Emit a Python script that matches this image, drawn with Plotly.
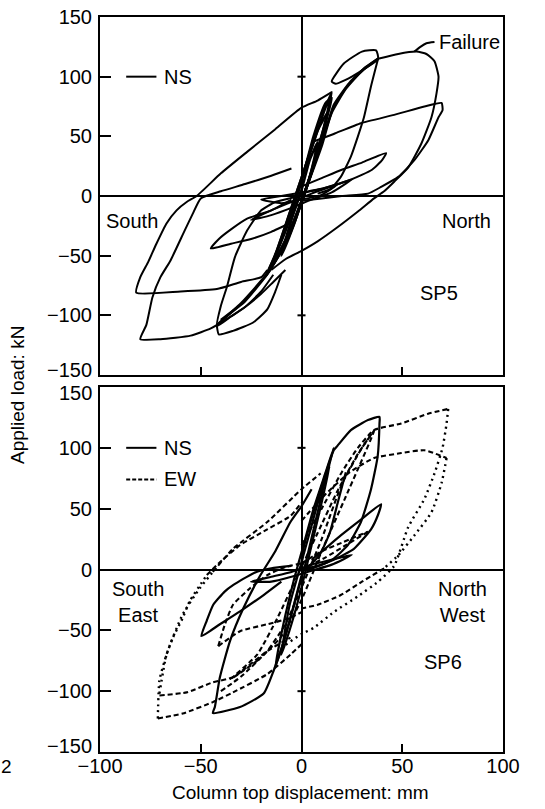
import plotly.graph_objects as go

# ---------------- DATA ----------------
# Axis ticks
x_ticks = [-100, -50, 0, 50, 100]
y_ticks = [-150, -100, -50, 0, 50, 100, 150]

# ---- SP5 (top panel), NS direction, solid ----
sp5_a_x = [-17, -20, -30, -42, -60, -82, -80, -76, -72, -67, -62, -57, -52, -40, -27, -13, 0, 8, 15]
sp5_a_y = [-62, -68, -72, -78, -80, -81, -68, -55, -40, -23, -12, -5, 0, 19, 37, 56, 74, 80, 87]

sp5_b_x = [-5, -15, -28, -40, -50, -54, -58, -65, -70, -74, -77, -80, -70, -55, -45, -37, -28, -20, -14]
sp5_b_y = [23, 17, 10, 4, -2, -15, -29, -54, -68, -85, -108, -120, -120, -117, -111, -103, -93, -80, -66]

sp5_c_x = [-8, -14, -20, -28, -35, -42, -40, -37, -33, -27, -20, -13, -6, 0]
sp5_c_y = [-62, -72, -82, -93, -101, -109, -92, -76, -51, -29, -12, -5, -2, 0]

sp5_c2_x = [-42, -41, -34, -24, -17, -13, -10]
sp5_c2_y = [-109, -116, -113, -106, -95, -80, -66]

sp5_d_x = [-5, -15, -27, -35, -41, -45, -35, -25, -15, -5]
sp5_d_y = [-3, -12, -19, -28, -36, -44, -40, -36, -30, -22]

sp5_e_x = [0, 10, 20, 30, 42, 40, 35, 25, 12, 0]
sp5_e_y = [8, 15, 22, 28, 36, 30, 22, 14, 7, 2]

sp5_fail_x = [38, 48, 57, 62, 66, 68, 67, 64.5, 59.5, 53, 46, 41, 36, 28, 18, 8, 0, -8, -15]
sp5_fail_y = [115, 119, 121, 119, 113, 100, 86, 66, 44, 24, 12, 4, -2, -13, -26, -38, -46, -53, -62]

sp5_lead_x = [56, 59, 62, 66]
sp5_lead_y = [121, 125, 128, 129]

sp5_g_x = [5, 16, 29.5, 46, 61, 69.5, 70, 68, 63, 56, 48, 39.5, 33, 20, 10, 0]
sp5_g_y = [45, 52, 61, 68, 75, 78, 72, 66, 47, 30, 16, 7.6, 2, 0, -2, -4]

sp5_h_x = [38, 34.5, 31, 28, 24.5, 19.5, 14.5, 8]
sp5_h_y = [115, 92, 66, 50, 33, 16, 6, 2]

sp5_i_x = [38, 37, 30, 21, 15, 17, 25, 38]
sp5_i_y = [115, 122, 121, 111, 96, 94, 100, 115]

sp5_band1_x = [-42, -30, -17, -8, 0, 8, 15, 22, 30, 38]
sp5_band1_y = [-108, -90, -65, -40, -5, 35, 70, 90, 105, 115]
sp5_band2_x = [-40, -28, -16, -7, 2, 10, 16, 24, 32, 38]
sp5_band2_y = [-104, -88, -63, -35, 5, 42, 76, 95, 108, 115]
sp5_band3_x = [-17, -12, -6, 0, 5, 10, 15, 11, 6, 0, -6, -12, -17]
sp5_band3_y = [-65, -50, -30, -5, 20, 50, 87, 70, 45, 15, -15, -45, -65]
sp5_band4_x = [-15, -8, -3, 3, 8, 13, 8, 2, -4, -10, -15]
sp5_band4_y = [-60, -40, -20, 10, 35, 70, 55, 25, -5, -35, -60]
sp5_band5_x = [-10, -4, 0, 4, 8, 4, 0, -5, -10]
sp5_band5_y = [-50, -25, -5, 15, 45, 30, 5, -20, -50]
sp5_band6_x = [-18, -11, -4, 2, 9, 15, 12, 6, 0, -7, -13, -18]
sp5_band6_y = [-68, -48, -22, 5, 45, 82, 78, 50, 12, -25, -50, -68]
sp5_s1_x = [-25, -15, -5, 5, 15, 25, 15, 5, -5, -15, -25]
sp5_s1_y = [-20, -12, -5, 2, 8, 14, 3, -3, -10, -16, -20]
sp5_s2_x = [-20, -10, 0, 10, 18, 10, 0, -10, -20]
sp5_s2_y = [-3, 0, 3, 6, 10, 1, -3, -6, -3]

# ---- SP6 (bottom panel), NS direction, solid ----
sp6_ns1_x = [0, 1, 4.5, 9.5, 13.7, 16, 18, 24.5, 33, 38.7, 38.7, 37.8, 34.5, 29.5, 23, 16, 9.5, 3, 0]
sp6_ns1_y = [3.5, 17, 39, 66, 87.5, 98, 102, 114.6, 122.8, 125.5, 120, 93, 66, 39, 20, 9, 3.5, 0, 0]

sp6_ns2_x = [5, 0, -5.5, -13, -20.5, -28.8, -35.5, -40.5, -43, -44, -30.5, -18.8, -13.8, -8.8, -3.8, 0]
sp6_ns2_y = [66, 52, 39, 15, -5, -31.7, -58.8, -88.6, -113, -118, -113, -102, -83, -59, -29, -5]

sp6_ns3_x = [-10, -18.8, -30.5, -40.5, -49.7, -47, -43.8, -38, -33.8, -23.8, -15, -5]
sp6_ns3_y = [-10, -21, -34.4, -45, -54.7, -42, -29, -18, -12.7, -3, 1, 3]

sp6_ns4_x = [5, 9.5, 19.5, 29.5, 39.5, 38, 34.5, 26, 16, 8, 0]
sp6_ns4_y = [8, 14, 28, 41, 53.7, 45, 33, 17, 8, 3, 0]

sp6_ns5_x = [-13, -8, -3, 2, 7, 12, 16, 12, 6, 1, -4, -9, -13]
sp6_ns5_y = [-80, -55, -25, 5, 40, 75, 100, 80, 50, 20, -10, -45, -80]
sp6_ns6_x = [-10, -5, 0, 5, 10, 14, 9, 4, -1, -6, -10]
sp6_ns6_y = [-70, -45, -15, 20, 55, 85, 60, 30, 0, -30, -70]
sp6_ns7_x = [22, 18, 14, 9, 4]
sp6_ns7_y = [80, 55, 30, 12, 3]
sp6_ns8_x = [-25, -15, -5, 5, 15, 25, 15, 5, -5, -15, -25]
sp6_ns8_y = [-10, -6, -2, 4, 8, 12, 4, -1, -6, -10, -10]

# ---- SP6 (bottom panel), EW direction, dashed / dotted ----
sp6_ew1u_x = [0, 10, 20, 28, 36, 49.5, 62.8, 72.8]
sp6_ew1u_y = [20, 50, 80, 100, 114.6, 120, 128, 132]
sp6_ew1r_x = [72.8, 72, 70, 66, 61, 53, 46, 38, 28, 16, 6, 0, -8]
sp6_ew1r_y = [132, 120, 100, 79, 58, 35, 3, -10, -22, -35, -48, -53, -62]

sp6_ew2u_x = [0, 12, 24, 36, 49.5, 61, 72]
sp6_ew2u_y = [40, 62, 80, 91.6, 95.7, 98, 91.6]
sp6_ew2r_x = [72, 69.5, 64.5, 56, 48, 41]
sp6_ew2r_y = [91.6, 71, 47, 28, 11.7, 1]
sp6_ew2l_x = [41, 30, 19.5, 8, 0]
sp6_ew2l_y = [1, -10, -21, -29, -32]

sp6_ew3a_x = [-71.3, -70.5, -67, -63.8, -59, -55.5, -50, -47]
sp6_ew3a_y = [-122.5, -91, -70, -56, -40, -26, -12, -4.6]
sp6_ew3b_x = [-47, -40.5, -30.5, -17, -5.5, 0]
sp6_ew3b_y = [-4.6, 6, 20, 33, 44, 55]
sp6_ew3c_x = [-70.5, -67, -59, -50.5, -44]
sp6_ew3c_y = [-102, -70, -37, -15.4, -2]
sp6_ew3d_x = [-44, -34, -17, 0, 9.5]
sp6_ew3d_y = [-2, 17, 39, 66, 79]
sp6_ew3e_x = [-71.3, -59, -44, -34, -17, -5.5, 0]
sp6_ew3e_y = [-122.5, -118.4, -109, -101, -86, -70, -61.5]
sp6_ew3f_x = [-70.5, -57, -44, -34, -17, -5.5]
sp6_ew3f_y = [-103.5, -101, -92.7, -88.6, -67, -56]

sp6_ew4a_x = [-41.3, -30.5, -17, -6, 0]
sp6_ew4a_y = [-63, -50.7, -45, -40, -35]
sp6_ew4b_x = [-41.3, -38, -34, -25.5, -17, -8, 0]
sp6_ew4b_y = [-63, -45, -29, -15.4, -4.6, 2, 5]

sp6_ew5a_x = [0, 10, 20, 27, 33]
sp6_ew5a_y = [5, 15, 22, 27, 31]
sp6_ew5b_x = [33, 22, 12, 0]
sp6_ew5b_y = [31, 20, 10, 0]

sp6_ew6_x = [-40, -30, -17, -8, 0, 10, 20, 30, 36]
sp6_ew6_y = [-100, -88, -67, -45, -15, 25, 70, 100, 114]
sp6_ew7_x = [-35, -22, -10, 0, 10, 22, 36, 28, 18, 8, -2, -12, -22, -35]
sp6_ew7_y = [-90, -75, -55, -25, 15, 60, 114, 95, 65, 30, -5, -40, -70, -90]

# ---------------- FIGURE ----------------
FONT = "Liberation Sans, Arial, sans-serif"
fig = go.Figure()

def add(x, y, ax, dash="solid", width=2.0):
    fig.add_trace(go.Scatter(
        x=x, y=y, mode="lines", xaxis="x" if ax == 1 else "x2", yaxis="y" if ax == 1 else "y2",
        line=dict(color="black", width=width, dash=dash, shape="spline", smoothing=0.5),
        showlegend=False, hoverinfo="skip"))

top = [
    (sp5_a_x, sp5_a_y), (sp5_b_x, sp5_b_y), (sp5_c_x, sp5_c_y), (sp5_c2_x, sp5_c2_y),
    (sp5_d_x, sp5_d_y), (sp5_e_x, sp5_e_y), (sp5_fail_x, sp5_fail_y), (sp5_lead_x, sp5_lead_y),
    (sp5_g_x, sp5_g_y), (sp5_h_x, sp5_h_y), (sp5_i_x, sp5_i_y), (sp5_s1_x, sp5_s1_y), (sp5_s2_x, sp5_s2_y),
]
for x, y in top:
    add(x, y, 1)
for x, y in [(sp5_band1_x, sp5_band1_y), (sp5_band2_x, sp5_band2_y), (sp5_band3_x, sp5_band3_y),
             (sp5_band4_x, sp5_band4_y), (sp5_band5_x, sp5_band5_y), (sp5_band6_x, sp5_band6_y)]:
    add(x, y, 1, width=2.6)

for x, y in [(sp6_ns1_x, sp6_ns1_y), (sp6_ns2_x, sp6_ns2_y), (sp6_ns3_x, sp6_ns3_y), (sp6_ns4_x, sp6_ns4_y),
             (sp6_ns5_x, sp6_ns5_y), (sp6_ns6_x, sp6_ns6_y), (sp6_ns7_x, sp6_ns7_y), (sp6_ns8_x, sp6_ns8_y)]:
    add(x, y, 2, width=2.2)

DASH = "5px,3px"
DOT = "2px,4px"
for x, y in [(sp6_ew1u_x, sp6_ew1u_y), (sp6_ew2u_x, sp6_ew2u_y), (sp6_ew2l_x, sp6_ew2l_y),
             (sp6_ew3b_x, sp6_ew3b_y), (sp6_ew3d_x, sp6_ew3d_y), (sp6_ew3e_x, sp6_ew3e_y),
             (sp6_ew3f_x, sp6_ew3f_y), (sp6_ew4a_x, sp6_ew4a_y), (sp6_ew4b_x, sp6_ew4b_y),
             (sp6_ew5a_x, sp6_ew5a_y), (sp6_ew5b_x, sp6_ew5b_y), (sp6_ew6_x, sp6_ew6_y), (sp6_ew7_x, sp6_ew7_y)]:
    add(x, y, 2, dash=DASH, width=2.1)
for x, y in [(sp6_ew1r_x, sp6_ew1r_y), (sp6_ew2r_x, sp6_ew2r_y), (sp6_ew3a_x, sp6_ew3a_y), (sp6_ew3c_x, sp6_ew3c_y)]:
    add(x, y, 2, dash=DOT, width=2.4)

W, H = 545, 809
L, R = 100 / W, 503 / W
top_dom = [1 - 375 / H, 1 - 17 / H]
bot_dom = [1 - 752 / H, 1 - 387 / H]
FS = 20

def ytext(v):
    return ("\u2212" + str(-v)) if v < 0 else str(v)

axis_common = dict(showline=True, linecolor="black", linewidth=2, mirror=True, showgrid=False,
                   zeroline=True, zerolinecolor="black", zerolinewidth=1.6, automargin=False,
                   ticks="inside", tickcolor="black", tickwidth=1.6,
                   tickfont=dict(family=FONT, size=FS, color="black"))

# labels at the panel ends are placed as annotations so they do not clash
top_y_text = [ytext(v) if v != -150 else "" for v in y_ticks]
bot_y_text = [ytext(v) if abs(v) != 150 else "" for v in y_ticks]

fig.update_layout(
    width=W, height=H, margin=dict(l=0, r=0, t=0, b=0),
    paper_bgcolor="white", plot_bgcolor="white", showlegend=False,
    xaxis=dict(domain=[L, R], range=[-100, 100], anchor="y", tickvals=x_ticks[1:-1],
               showticklabels=False, ticklen=8, **axis_common),
    yaxis=dict(domain=top_dom, range=[-150, 150], anchor="x", tickvals=y_ticks,
               ticktext=top_y_text, ticklen=11, ticklabelstandoff=2, **axis_common),
    xaxis2=dict(domain=[L, R], range=[-100, 100], anchor="y2", tickvals=x_ticks,
                ticktext=[ytext(v) for v in x_ticks], ticklen=8, ticklabelstandoff=-5, **axis_common),
    yaxis2=dict(domain=bot_dom, range=[-150, 150], anchor="x2", tickvals=y_ticks,
                ticktext=bot_y_text, ticklen=11, ticklabelstandoff=2, **axis_common),
)

for val, py in [(y_ticks[0], 370), (y_ticks[-1], 393), (y_ticks[0], 746)]:
    fig.add_annotation(x=94 / W, y=1 - py / H, xref="paper", yref="paper", text=ytext(val),
                       showarrow=False, xanchor="right", yanchor="middle",
                       font=dict(family=FONT, size=FS, color="black"))

# small marks on the vertical zero line at +/-100
for xr, yr in [("x", "y"), ("x2", "y2")]:
    for v in (-100, 100):
        fig.add_shape(type="line", xref=xr, yref=yr, x0=-2, x1=2, y0=v, y1=v,
                      line=dict(color="black", width=2))

# legend samples
fig.add_shape(type="line", xref="x", yref="y", x0=-87, x1=-72, y0=100, y1=100, line=dict(color="black", width=2))
fig.add_shape(type="line", xref="x2", yref="y2", x0=-87, x1=-72, y0=100, y1=100, line=dict(color="black", width=2))
fig.add_shape(type="line", xref="x2", yref="y2", x0=-87, x1=-72, y0=74, y1=74, line=dict(color="black", width=2, dash="4px,2px"))

def txt(x, y, s, xr="x", yr="y", xanchor="left", yanchor="middle", size=FS):
    fig.add_annotation(x=x, y=y, xref=xr, yref=yr, text=s, showarrow=False, xanchor=xanchor,
                       yanchor=yanchor, font=dict(family=FONT, size=size, color="black"))

txt(-69, 100, "NS")
txt(67, 129, "Failure")
txt(-98, -21, "South")
txt(95, -21, "North", xanchor="right")
txt(68, -81, "SP5", xanchor="center")

txt(-69, 100, "NS", "x2", "y2")
txt(-69, 74, "EW", "x2", "y2")
txt(-95, -27, "South<br>East", "x2", "y2")
txt(93, -27, "North<br>West", "x2", "y2", xanchor="right")
txt(70, -76, "SP6", "x2", "y2", xanchor="center")

fig.add_annotation(x=17 / W, y=1 - 395 / H, xref="paper", yref="paper", text="Applied load: kN",
                   textangle=-90, showarrow=False, xanchor="center", yanchor="middle",
                   font=dict(family=FONT, size=19, color="black"))
fig.add_annotation(x=300 / W, y=1 - 792 / H, xref="paper", yref="paper", text="Column top displacement: mm",
                   showarrow=False, xanchor="center", yanchor="middle",
                   font=dict(family=FONT, size=19, color="black"))
fig.add_annotation(x=6 / W, y=1 - 766 / H, xref="paper", yref="paper", text="2",
                   showarrow=False, xanchor="center", yanchor="middle",
                   font=dict(family=FONT, size=19, color="black"))

fig.write_html("out.html")
